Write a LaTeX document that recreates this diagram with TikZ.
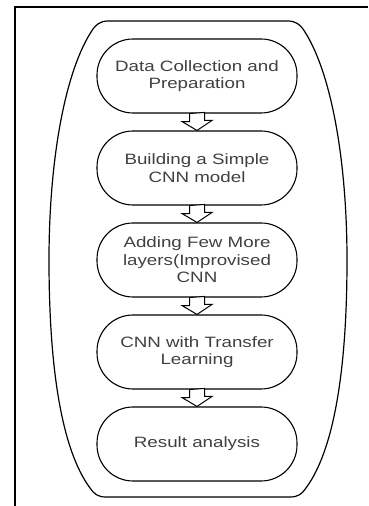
\documentclass[tikz,border=0pt]{standalone}
\usepackage{fontspec}
\setmainfont{Liberation Sans}[FakeStretch=1.25]
\usepackage{tikz}

\tikzset{
	stage/.style={draw, rectangle, rounded corners=36pt, line width=1.1pt,
		minimum width=200pt, minimum height=74pt, align=center, text=black!75,
		font=\fontsize{15}{17.5}\selectfont},
	hollow/.style={draw, fill=white, line width=1pt, line join=miter}
}

\begin{document}
\begin{tikzpicture}[x=1pt, y=1pt]
	\useasboundingbox (0,0) rectangle (368,506);
	% frame
	\draw[line width=1.6pt] (15,0) -- (15,499) -- (368,499);
	
	% outer container
	\draw[line width=1.2pt] (200,485) -- (108,485)
		.. controls (100,485) and (96,481) .. (93,477)
		.. controls (65,436) and (49,346) .. (49,246)
		.. controls (49,136) and (62,56) .. (90,18)
		.. controls (94,12) and (98,9) .. (106,9)
		-- (290,9)
		.. controls (298,9) and (302,12) .. (306,18)
		.. controls (334,56) and (347,136) .. (347,246)
		.. controls (347,346) and (331,436) .. (303,477)
		.. controls (300,481) and (296,485) .. (288,485) -- cycle;
	
	% stages
	\node[stage] (s1) at (197,430) {Data Collection and\\Preparation};
	\node[stage] (s2) at (197,338) {Building a Simple\\CNN model};
	\node[stage] (s3) at (197,246) {Adding Few More\\layers(Improvised\\CNN};
	\node[stage] (s4) at (197,154) {CNN with Transfer\\Learning};
	\node[stage] (s5) at (197,62) {Result analysis};
	
	% arrows
	\draw[hollow] (s1.south) ++(-7.5,0) -- ++(0,-8) -- ++(-7.5,0) -- (s2.north) -- ++(15,10) -- ++(-7.5,0) -- ++(0,8) -- cycle;
	\draw[hollow] (s2.south) ++(-7.5,0) -- ++(0,-8) -- ++(-7.5,0) -- (s3.north) -- ++(15,10) -- ++(-7.5,0) -- ++(0,8) -- cycle;
	\draw[hollow] (s3.south) ++(-7.5,0) -- ++(0,-8) -- ++(-7.5,0) -- (s4.north) -- ++(15,10) -- ++(-7.5,0) -- ++(0,8) -- cycle;
	\draw[hollow] (s4.south) ++(-7.5,0) -- ++(0,-8) -- ++(-7.5,0) -- (s5.north) -- ++(15,10) -- ++(-7.5,0) -- ++(0,8) -- cycle;
\end{tikzpicture}
\end{document}
